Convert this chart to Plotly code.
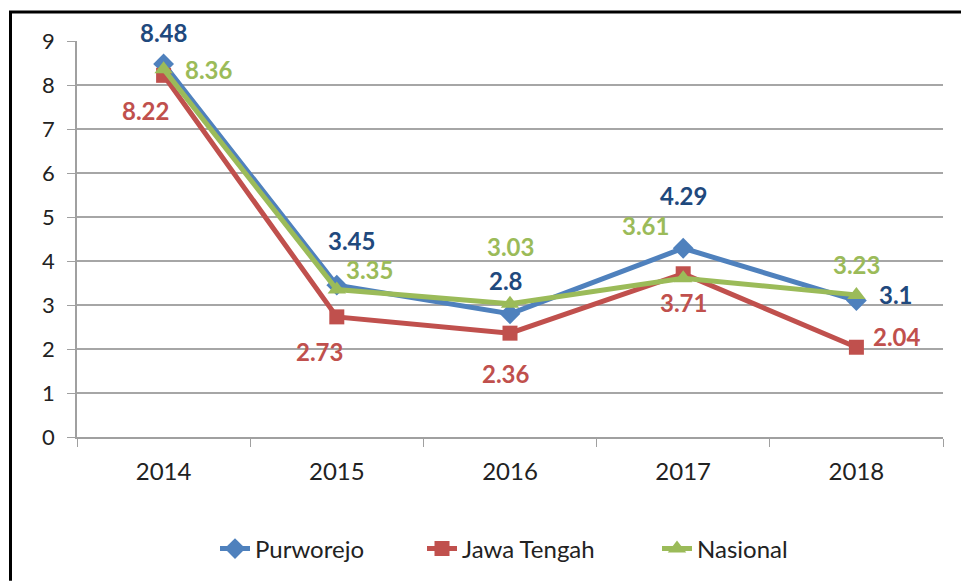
import plotly.graph_objects as go

years = ["2014", "2015", "2016", "2017", "2018"]
purworejo = [8.48, 3.45, 2.8, 4.29, 3.1]
jawa_tengah = [8.22, 2.73, 2.36, 3.71, 2.04]
nasional = [8.36, 3.35, 3.03, 3.61, 3.23]
y_ticks = [0, 1, 2, 3, 4, 5, 6, 7, 8, 9]

FONT = "Lato, Calibri, Carlito, sans-serif"
W, H = 961, 582
L, R, T, B = 77, 943, 41, 438

def px_x(p):
    return (p - L) / (R - L)

def px_y(p):
    return (B - p) / (B - T)

fig = go.Figure()
series = [
    ("Purworejo", purworejo, "#4F81BD", "diamond", 16, "legend", 256),
    ("Jawa Tengah", jawa_tengah, "#C0504D", "square", 15, "legend2", 463),
    ("Nasional", nasional, "#9BBB59", "triangle-up", 16, "legend3", 698),
]
for name, vals, col, sym, sz, lg, _ in series:
    fig.add_trace(go.Scatter(
        x=years, y=vals, name=name, mode="lines+markers",
        line=dict(color=col, width=5),
        marker=dict(symbol=sym, size=sz, color=col),
        cliponaxis=False, legend=lg,
    ))

# label offsets (xshift, yshift) per series per year
offsets = {
    "Purworejo": [(0, 31), (15, 45), (-4, 33), (0, 53), (40, 6)],
    "Jawa Tengah": [(-18, -35), (-17, -35), (-4, -40), (0, -29), (41, 11)],
    "Nasional": [(45, 0), (33, 20), (0, 57), (-38, 53), (0, 30)],
}
label_colors = {"Purworejo": "#1F497D", "Jawa Tengah": "#C0504D", "Nasional": "#9BBB59"}
for name, vals, *_ in series:
    for i, (v, (dx, dy)) in enumerate(zip(vals, offsets[name])):
        fig.add_annotation(
            x=i, y=v, text=f"<b>{v:g}</b>", showarrow=False,
            xshift=dx, yshift=dy,
            font=dict(family=FONT, size=24, color=label_colors[name]),
        )

# outer frame (top and left edges)
fig.add_shape(type="line", xref="paper", yref="paper",
              x0=px_x(9), x1=px_x(961), y0=px_y(12), y1=px_y(12),
              line=dict(color="black", width=3))
fig.add_shape(type="line", xref="paper", yref="paper",
              x0=px_x(10.5), x1=px_x(10.5), y0=px_y(11), y1=px_y(582),
              line=dict(color="black", width=3))

legend_common = dict(orientation="h", xanchor="left", yanchor="middle",
                     y=px_y(549), bgcolor="rgba(0,0,0,0)",
                     font=dict(family=FONT, size=24, color="#222222"))
legends = {}
for name, vals, col, sym, sz, lg, text_x in series:
    legends[lg] = dict(legend_common, x=px_x(text_x - 41))

fig.update_layout(
    width=W, height=H,
    margin=dict(l=L, r=W - R, t=T, b=H - B),
    paper_bgcolor="white", plot_bgcolor="white",
    font=dict(family=FONT, size=22, color="#222222"),
    showlegend=True,
    **legends,
)
fig.update_xaxes(
    type="category", tickson="boundaries", ticks="outside", ticklen=8,
    tickcolor="#A0A0A0", showline=True, linecolor="#A0A0A0", linewidth=1.5,
    showgrid=False, tickfont=dict(family=FONT, size=24, color="#222222"),
    range=[-0.5, 4.5], ticklabelstandoff=12,
)
fig.update_yaxes(
    range=[0, 9], tickvals=y_ticks, ticks="outside", ticklen=8,
    tickcolor="#A0A0A0", showline=True, linecolor="#A0A0A0", linewidth=1.5,
    showgrid=True, gridcolor="#A6A6A6", gridwidth=1.5, zeroline=False,
    tickfont=dict(family=FONT, size=22, color="#222222"),
    ticklabelstandoff=8,
)

fig.write_html("out.html", config={"displayModeBar": False})

# remove default page margin so the figure sits at the window's top-left
with open("out.html", "r", encoding="utf-8") as f:
    html = f.read()
html = html.replace("<head>", "<head><style>html,body{margin:0;padding:0;overflow:hidden;}</style>", 1)
with open("out.html", "w", encoding="utf-8") as f:
    f.write(html)
